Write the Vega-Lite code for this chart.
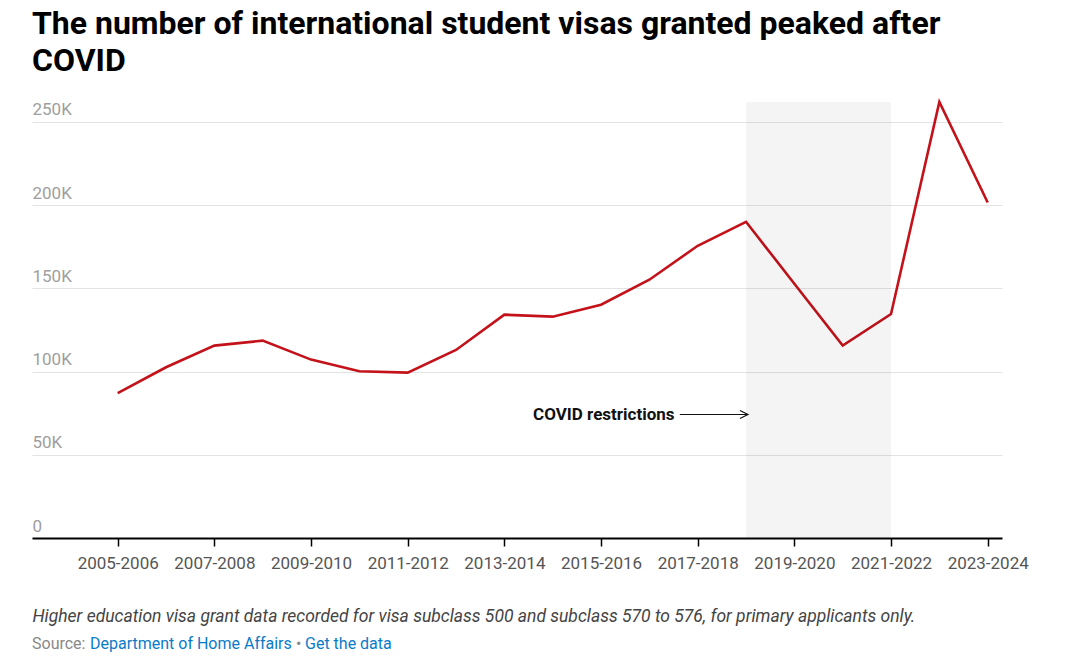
{
  "$schema": "https://vega.github.io/schema/vega-lite/v6.json",
  "width": 970,
  "height": 436,
  "autosize": {"type": "pad"},
  "padding": {"left": 32, "top": 7, "right": 20, "bottom": 5},
  "background": "white",
  "config": {"font": "Roboto", "view": {"stroke": null}},
  "title": {
    "text": ["The number of international student visas granted peaked after", "COVID"],
    "anchor": "start",
    "font": "Roboto",
    "fontSize": 32,
    "fontWeight": "bold",
    "color": "#000000",
    "lineHeight": 37.5,
    "offset": 18.5
  },
  "datasets": {
    "visas": [
      {"period": "2005-2006", "year": 2005, "grants": 87000},
      {"period": "2006-2007", "year": 2006, "grants": 102600},
      {"period": "2007-2008", "year": 2007, "grants": 115600},
      {"period": "2008-2009", "year": 2008, "grants": 118600},
      {"period": "2009-2010", "year": 2009, "grants": 107200},
      {"period": "2010-2011", "year": 2010, "grants": 100200},
      {"period": "2011-2012", "year": 2011, "grants": 99400},
      {"period": "2012-2013", "year": 2012, "grants": 113000},
      {"period": "2013-2014", "year": 2013, "grants": 134200},
      {"period": "2014-2015", "year": 2014, "grants": 133000},
      {"period": "2015-2016", "year": 2015, "grants": 140200},
      {"period": "2016-2017", "year": 2016, "grants": 155200},
      {"period": "2017-2018", "year": 2017, "grants": 175600},
      {"period": "2018-2019", "year": 2018, "grants": 190000},
      {"period": "2019-2020", "year": 2019, "grants": 152800},
      {"period": "2020-2021", "year": 2020, "grants": 115600},
      {"period": "2021-2022", "year": 2021, "grants": 134600},
      {"period": "2022-2023", "year": 2022, "grants": 262000},
      {"period": "2023-2024", "year": 2023, "grants": 201600}
    ],
    "covid": [
      {"label": "COVID restrictions", "start": 2018, "end": 2021, "low": 0, "high": 262000}
    ],
    "source": [
      {"label": "Source:", "link": "Department of Home Affairs", "sep": "•", "data": "Get the data"}
    ]
  },
  "layer": [
    {
      "data": {"name": "visas"},
      "mark": {"type": "line", "color": "#c4121b", "strokeWidth": 2.6},
      "encoding": {
        "x": {
          "field": "year",
          "type": "quantitative",
          "scale": {"domain": [2003.227, 2023.296], "nice": false, "zero": false},
          "axis": {
            "values": [2005, 2007, 2009, 2011, 2013, 2015, 2017, 2019, 2021, 2023],
            "labelExpr": "datum.value + '-' + (datum.value + 1)",
            "grid": false,
            "domainColor": "#000000",
            "domainWidth": 2,
            "tickColor": "#000000",
            "tickWidth": 1.5,
            "tickSize": 8,
            "labelPadding": 9,
            "labelFont": "Roboto",
            "labelFontSize": 17,
            "labelColor": "#555555",
            "labelOverlap": false,
            "labelFlush": false,
            "title": "Higher education visa grant data recorded for visa subclass 500 and subclass 570 to 576, for primary applicants only.",
            "titleFont": "Roboto",
            "titleFontStyle": "italic",
            "titleFontWeight": "normal",
            "titleFontSize": 17.5,
            "titleColor": "#444444",
            "titleAnchor": "start",
            "titleAlign": "left",
            "titlePadding": 36.5
          }
        },
        "y": {
          "field": "grants",
          "type": "quantitative",
          "scale": {"domain": [0, 262000], "nice": false},
          "axis": {
            "values": [0, 50000, 100000, 150000, 200000, 250000],
            "labelExpr": "datum.value == 0 ? '0' : (datum.value / 1000) + 'K'",
            "domain": false,
            "ticks": false,
            "tickSize": 0,
            "labelPadding": 0,
            "labelAlign": "left",
            "labelBaseline": "alphabetic",
            "labelOffset": -7,
            "labelFont": "Roboto",
            "labelFontSize": 17,
            "labelColor": "#9e9e9e",
            "gridColor": "#e3e3e3",
            "gridWidth": 1,
            "title": null
          }
        }
      }
    },
    {
      "data": {"name": "covid"},
      "mark": {"type": "rect", "color": "#000000", "opacity": 0.045},
      "encoding": {
        "x": {"field": "start", "type": "quantitative"},
        "x2": {"field": "end"},
        "y": {"field": "low", "type": "quantitative"},
        "y2": {"field": "high"}
      }
    },
    {
      "data": {"name": "covid"},
      "mark": {"type": "text", "align": "right", "baseline": "middle", "font": "Roboto", "fontSize": 17, "fontWeight": "bold", "color": "#111111"},
      "encoding": {
        "x": {"datum": 2016.52, "type": "quantitative"},
        "y": {"datum": 74200, "type": "quantitative"},
        "text": {"field": "label"}
      }
    },
    {
      "data": {"name": "covid"},
      "mark": {"type": "rule", "color": "#111111", "strokeWidth": 1.2},
      "encoding": {
        "x": {"datum": 2016.63, "type": "quantitative"},
        "x2": {"datum": 2018.04},
        "y": {"datum": 74200, "type": "quantitative"}
      }
    },
    {
      "data": {"name": "covid"},
      "mark": {"type": "point", "shape": "M-2,-1L0,0L-2,1", "size": 64, "filled": false, "stroke": "#111111", "strokeWidth": 1.2, "opacity": 1},
      "encoding": {
        "x": {"datum": 2018.04, "type": "quantitative"},
        "y": {"datum": 74200, "type": "quantitative"}
      }
    },
    {
      "data": {"name": "source"},
      "mark": {"type": "text", "align": "left", "baseline": "alphabetic", "font": "Roboto", "fontSize": 16, "color": "#888888"},
      "encoding": {
        "x": {"datum": 2003.227, "type": "quantitative"},
        "y": {"datum": -66600, "type": "quantitative"},
        "text": {"field": "label"}
      }
    },
    {
      "data": {"name": "source"},
      "mark": {"type": "text", "align": "left", "baseline": "alphabetic", "font": "Roboto", "fontSize": 16, "color": "#0a7bc8", "dx": 58},
      "encoding": {
        "x": {"datum": 2003.227, "type": "quantitative"},
        "y": {"datum": -66600, "type": "quantitative"},
        "text": {"field": "link"}
      }
    },
    {
      "data": {"name": "source"},
      "mark": {"type": "text", "align": "left", "baseline": "alphabetic", "font": "Roboto", "fontSize": 16, "color": "#888888", "dx": 264},
      "encoding": {
        "x": {"datum": 2003.227, "type": "quantitative"},
        "y": {"datum": -66600, "type": "quantitative"},
        "text": {"field": "sep"}
      }
    },
    {
      "data": {"name": "source"},
      "mark": {"type": "text", "align": "left", "baseline": "alphabetic", "font": "Roboto", "fontSize": 16, "color": "#0a7bc8", "dx": 273},
      "encoding": {
        "x": {"datum": 2003.227, "type": "quantitative"},
        "y": {"datum": -66600, "type": "quantitative"},
        "text": {"field": "data"}
      }
    }
  ]
}
